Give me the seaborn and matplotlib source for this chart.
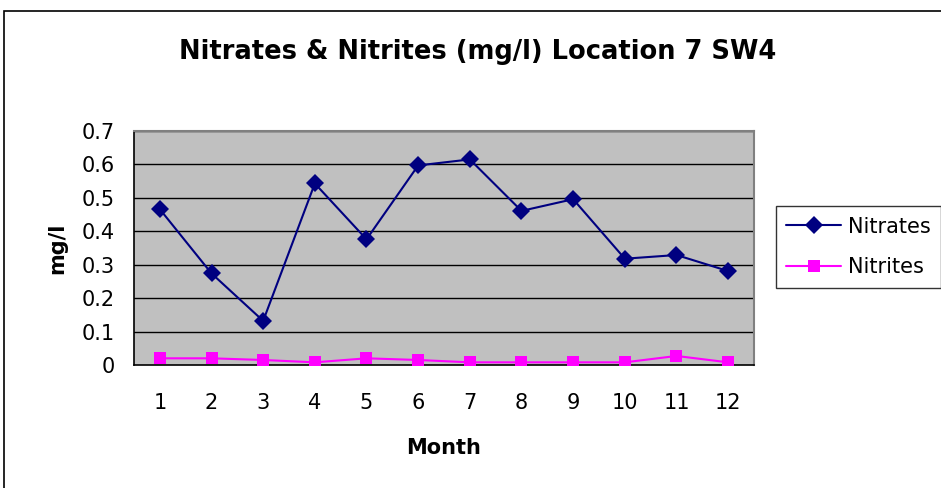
import numpy as np
import pandas as pd
import matplotlib
matplotlib.use("Agg")
import matplotlib.pyplot as plt
import seaborn as sns
from matplotlib.patches import Rectangle

# Du lieu doc tu bieu do
months = [1, 2, 3, 4, 5, 6, 7, 8, 9, 10, 11, 12]
nitrates = [0.466, 0.274, 0.132, 0.543, 0.376, 0.597, 0.615, 0.461, 0.496, 0.318, 0.329, 0.281]
nitrites = [0.020, 0.020, 0.015, 0.008, 0.020, 0.015, 0.008, 0.008, 0.008, 0.008, 0.027, 0.008]
y_ticks = [0, 0.1, 0.2, 0.3, 0.4, 0.5, 0.6, 0.7]

sns.set_style("white")
plt.rcParams['font.family'] = ['DejaVu Sans']
plt.rcParams['text.color'] = 'black'
plt.rcParams['axes.labelcolor'] = 'black'
plt.rcParams['xtick.color'] = 'black'
plt.rcParams['ytick.color'] = 'black'

df = pd.DataFrame({
    'Month': months * 2,
    'Value': nitrates + nitrites,
    'Series': ['Nitrates'] * len(months) + ['Nitrites'] * len(months),
})

fig = plt.figure(figsize=(9.41, 4.88), dpi=100)
ax = fig.add_axes([134 / 941, 1 - 365 / 488, (754 - 134) / 941, (365 - 131) / 488])
ax.set_facecolor('#C0C0C0')

# Duong luoi ngang
for v in y_ticks[1:]:
    ax.axhline(v, color='black', linewidth=1, zorder=1)

sns.lineplot(data=df, x='Month', y='Value', hue='Series', style='Series',
             palette={'Nitrates': '#000080', 'Nitrites': '#FF00FF'},
             markers={'Nitrates': 'D', 'Nitrites': 's'}, dashes=False,
             markersize=9, linewidth=1.5, markeredgewidth=0, ax=ax, zorder=3)

ax.set_xlim(0.5, 12.5)
ax.set_ylim(0, 0.7)
ax.set_yticks(y_ticks)
ax.set_yticklabels(['0', '0.1', '0.2', '0.3', '0.4', '0.5', '0.6', '0.7'], fontsize=15)
ax.set_xticks(np.arange(0.5, 13, 1))
ax.set_xticklabels([])
ax.set_xticks(months, minor=True)
ax.set_xticklabels([str(m) for m in months], minor=True, fontsize=15)
ax.tick_params(axis='x', which='major', length=6, width=1, direction='out', color='black')
ax.tick_params(axis='x', which='minor', length=0, pad=20)
ax.tick_params(axis='y', length=6, width=1, direction='out', color='black', pad=8)

for side in ['top', 'right']:
    ax.spines[side].set_color('#808080')
    ax.spines[side].set_linewidth(1.5)
for side in ['left', 'bottom']:
    ax.spines[side].set_color('black')
    ax.spines[side].set_linewidth(1.2)

ax.set_xlabel('Month', fontsize=15, fontweight='bold', labelpad=18)
ax.set_ylabel('mg/l', fontsize=15, fontweight='bold', labelpad=10)

fig.text(478 / 941, 1 - 52 / 488, 'Nitrates & Nitrites (mg/l) Location 7 SW4',
         ha='center', va='center', fontsize=18.5, fontweight='bold')

leg = ax.legend(loc='center left', bbox_to_anchor=(776 / 941, 1 - 247 / 488),
                bbox_transform=fig.transFigure, fontsize=15, frameon=True,
                fancybox=False, edgecolor='black', handlelength=2.6,
                borderpad=0.5, borderaxespad=0, labelspacing=1.0, handletextpad=0.35)
leg.get_frame().set_linewidth(1)

# Khung ngoai
fig.patches.append(Rectangle((4 / 941, -0.1), 1.2, 1.1 - 11 / 488, transform=fig.transFigure,
                             fill=False, edgecolor='black', linewidth=1.2))

plt.savefig('out.png', dpi=100)
plt.close()
